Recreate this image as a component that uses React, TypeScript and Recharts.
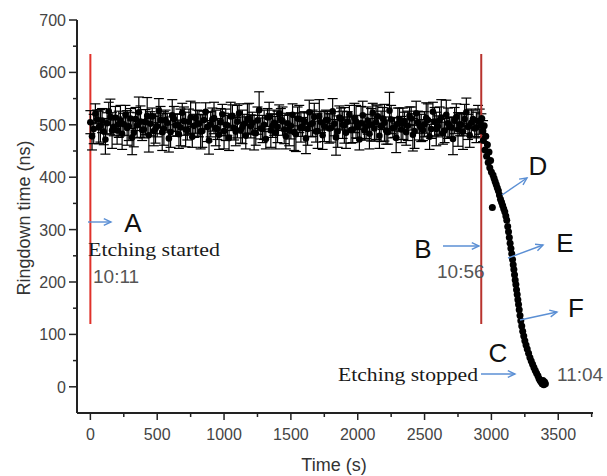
import {
  ErrorBar,
  ReferenceLine,
  Scatter,
  ScatterChart,
  XAxis,
  YAxis,
} from "recharts";

// sample cadence of the flat (pre-breakthrough) part, seconds
const SAMPLE_STEP = 25;

// readings taken on the step
const flatValues = [
  505, 492, 510, 498, 487, 503, 515, 496, 489, 508, 501, 494, 512, 485, 499, 506, 491, 517, 502, 488,
  497, 509, 493, 504, 486, 511, 500, 495, 507, 490, 514, 498, 503, 487, 509, 496, 501, 513, 492, 505,
  488, 499, 516, 494, 506, 490, 502, 511, 497, 485, 508, 493, 500, 514, 489, 504, 496, 510, 491, 503,
  498, 486, 512, 495, 507, 492, 501, 515, 488, 505, 497, 509, 494, 502, 487, 511, 499, 506, 490, 513,
  496, 503, 489, 508, 500, 493, 516, 497, 504, 486, 510, 495, 502, 491, 507, 498, 512, 488, 505, 494,
  501, 509, 492, 506, 497, 514, 489, 503, 495, 508, 491, 500, 511, 496, 504, 493, 507, 499,
];

const flatErrors = [
  22, 28, 18, 31, 25, 20, 34, 17, 26, 29, 21, 33, 19, 27, 24, 30, 16, 35, 23, 28,
  20, 26, 32, 18, 29, 24, 21, 35, 27, 19, 31, 22, 25, 33, 17, 28, 24, 30, 20, 26,
  34, 19, 27, 23, 31, 25, 18, 29, 22, 33, 26, 20, 28, 17, 32, 24, 30, 21, 27, 19,
  25, 35, 22, 28, 18, 31, 24, 26, 33, 20, 29, 17, 27, 23, 30, 21, 34, 19, 25, 28,
  22, 32, 18, 26, 31, 24, 20, 29, 35, 23, 27, 19, 30, 25, 17, 28, 22, 33, 21, 26,
  24, 31, 18, 27, 20, 34, 23, 29, 19, 25, 32, 21, 28, 24, 26, 18, 30, 22,
];

// readings taken half a step later
const flatValuesB = [
  478, 521, 495, 508, 472, 526, 489, 514, 501, 483, 519, 497, 476, 511, 524, 490, 505, 480, 516, 493,
  527, 486, 509, 474, 518, 499, 482, 523, 491, 506, 477, 513, 502, 488, 525, 470, 510, 494, 481, 520,
  500, 475, 517, 487, 522, 496, 479, 512, 504, 484, 528, 492, 473, 515, 498, 485, 521, 507, 478, 490,
  519, 482, 511, 496, 474, 524, 503, 487, 516, 480, 509, 493, 526, 476, 514, 500, 485, 520, 491, 506,
  472, 518, 497, 483, 523, 505, 479, 512, 489, 527, 494, 475, 510, 502, 486, 517, 481, 522, 498, 490,
  513, 477, 525, 492, 508, 484, 519, 496, 473, 515, 501, 487, 524, 480, 511, 495, 506, 488,
];

const flatErrorsB = [
  26, 19, 31, 23, 28, 17, 34, 21, 25, 30, 18, 27, 33, 22, 29, 20, 24, 32, 16, 28,
  23, 35, 19, 26, 30, 21, 27, 18, 33, 24, 20, 29, 25, 31, 17, 26, 22, 34, 28, 19,
  30, 24, 21, 27, 18, 32, 25, 29, 20, 23, 35, 26, 19, 28, 22, 31, 17, 27, 24, 30,
  21, 33, 26, 18, 29, 23, 25, 20, 32, 27, 19, 28, 24, 34, 22, 26, 30, 17, 25, 31,
  20, 27, 23, 29, 18, 33, 24, 21, 26, 35, 19, 28, 22, 30, 25, 17, 31, 23, 27, 20,
  29, 24, 18, 32, 26, 21, 28, 19, 30, 25, 22, 34, 27, 23, 17, 29, 24, 20,
];

const dropTimes = [
  2928, 2934, 2940, 2946, 2952, 2958, 2964, 2970, 2976, 2982, 2988, 2994, 3000, 3007, 3012,
  3020, 3028, 3036, 3044, 3052, 3060, 3068, 3076, 3084, 3092, 3100, 3108, 3115, 3122, 3128,
  3134, 3140, 3146, 3152, 3158, 3163, 3168, 3173, 3178, 3183, 3188, 3193, 3198, 3203, 3208,
  3214, 3220, 3227, 3234, 3242, 3250, 3259, 3268, 3278, 3288, 3298, 3308, 3318, 3328, 3338,
  3348, 3356, 3364, 3372, 3380, 3386, 3392, 3398, 3404,
];

const dropValues = [
  512, 488, 470, 498, 452, 478, 440, 462, 428, 448, 418, 432, 410, 342, 404,
  398, 392, 386, 380, 374, 366, 358, 352, 346, 340, 334, 326, 318, 306, 296,
  285, 274, 264, 254, 243, 233, 224, 214, 204, 195, 185, 176, 166, 157, 147,
  136, 126, 116, 106, 97, 88, 80, 72, 64, 56, 49, 43, 37, 31, 26,
  21, 16, 12, 9, 6, 12, 4, 9, 6,
];

const xTicks = [
  0, 250, 500, 750, 1000, 1250, 1500, 1750, 2000, 2250, 2500, 2750, 3000, 3250, 3500, 3750,
];
const yTicks = [0, 50, 100, 150, 200, 250, 300, 350, 400, 450, 500, 550, 600, 650, 700];

// etching start / stop markers (s)
const etchStart = 0;
const breakThrough = 2924;

const flatData = [
  ...flatValues.map((v, i) => ({ t: i * SAMPLE_STEP, v, err: flatErrors[i] })),
  ...flatValuesB.map((v, i) => ({ t: i * SAMPLE_STEP + SAMPLE_STEP / 2, v, err: flatErrorsB[i] })),
];
const dropData = dropTimes.map((t, i) => ({ t, v: dropValues[i] }));

const XTick = (props: any) => {
  const { x, y, payload } = props;
  const major = payload.value % 500 === 0;
  return (
    <g>
      <line x1={x} x2={x} y1={y} y2={y + (major ? 7 : 4)} stroke="#222" strokeWidth={1.5} />
      {major && (
        <text x={x} y={y + 27} textAnchor="middle" fontSize={16} fill="#444" fontFamily="Arial, Liberation Sans">
          {payload.value}
        </text>
      )}
    </g>
  );
};

const YTick = (props: any) => {
  const { x, y, payload } = props;
  const major = payload.value % 100 === 0;
  return (
    <g>
      <line x1={x - (major ? 8 : 4)} x2={x} y1={y} y2={y} stroke="#222" strokeWidth={1.5} />
      {major && (
        <text x={x - 11} y={y + 6} textAnchor="end" fontSize={16} fill="#444" fontFamily="Arial, Liberation Sans">
          {payload.value}
        </text>
      )}
    </g>
  );
};

const Dot = (r: number) => (props: any) => <circle cx={props.cx} cy={props.cy} r={r} fill="#000" />;

const Arrow = ({ x1, y1, x2, y2 }: { x1: number; y1: number; x2: number; y2: number }) => {
  const a = Math.atan2(y2 - y1, x2 - x1);
  const h = 8;
  const p1 = [x2 - h * Math.cos(a - 0.45), y2 - h * Math.sin(a - 0.45)];
  const p2 = [x2 - h * Math.cos(a + 0.45), y2 - h * Math.sin(a + 0.45)];
  return (
    <g stroke="#5b8fd4" strokeWidth={1.4} fill="none">
      <line x1={x1} y1={y1} x2={x2} y2={y2} />
      <polyline points={`${p1[0]},${p1[1]} ${x2},${y2} ${p2[0]},${p2[1]}`} />
    </g>
  );
};

const sans = "Arial, Liberation Sans, sans-serif";
const serif = "Liberation Serif, Times New Roman, serif";

const App = () => {
  return (
    <div style={{ position: "absolute", left: 0, top: 0, width: 607, height: 476, background: "#fff" }}>
      <ScatterChart width={607} height={476} margin={{ top: 20, right: 14, bottom: 0, left: 0 }}>
        <XAxis
          type="number"
          dataKey="t"
          domain={[-100, 3760]}
          ticks={xTicks}
          interval={0}
          tickSize={0}
          tickMargin={0}
          tick={<XTick />}
          height={63}
          axisLine={{ stroke: "#222", strokeWidth: 2 }}
          allowDataOverflow
        />
        <YAxis
          type="number"
          dataKey="v"
          domain={[-50, 700]}
          ticks={yTicks}
          interval={0}
          tickSize={0}
          tickMargin={0}
          tick={<YTick />}
          width={77}
          axisLine={{ stroke: "#222", strokeWidth: 2 }}
          allowDataOverflow
        />
        <ReferenceLine
          segment={[{ x: etchStart, y: 120 }, { x: etchStart, y: 635 }]}
          stroke="#e0312a"
          strokeWidth={2}
        />
        <Scatter data={flatData} shape={Dot(3.3)} isAnimationActive={false}>
          <ErrorBar dataKey="err" direction="y" width={5} stroke="#000" strokeWidth={1.2} />
        </Scatter>
        <Scatter data={dropData} shape={Dot(3.5)} isAnimationActive={false} />
        <ReferenceLine
          segment={[{ x: breakThrough, y: 120 }, { x: breakThrough, y: 635 }]}
          stroke="#b8332e"
          strokeWidth={2}
        />
      </ScatterChart>
      <svg width={607} height={476} style={{ position: "absolute", left: 0, top: 0, pointerEvents: "none" }}>
        <text x={24} y={218} transform="rotate(-90 24 218)" textAnchor="middle" dominantBaseline="central" fontSize={18} fill="#333" fontFamily={sans}>
          Ringdown time (ns)
        </text>
        <text x={334} y={471} textAnchor="middle" fontSize={18} fill="#333" fontFamily={sans}>
          Time (s)
        </text>

        <Arrow x1={88} y1={222} x2={111} y2={222} />
        <text x={133} y={232} textAnchor="middle" fontSize={26} fill="#111" fontFamily={sans}>A</text>
        <text x={88} y={256} fontSize={19} fill="#1a1a1a" fontFamily={serif} textLength={132} lengthAdjust="spacingAndGlyphs">Etching started</text>
        <text x={93} y={283} fontSize={19} fill="#555" fontFamily={sans}>10:11</text>

        <Arrow x1={443} y1={246} x2={479} y2={246} />
        <text x={423} y={258} textAnchor="middle" fontSize={26} fill="#111" fontFamily={sans}>B</text>
        <text x={437} y={278} fontSize={19} fill="#555" fontFamily={sans}>10:56</text>

        <Arrow x1={502} y1={195} x2={527} y2={178} />
        <text x={538} y={175} textAnchor="middle" fontSize={26} fill="#111" fontFamily={sans}>D</text>

        <Arrow x1={508} y1={258} x2={543} y2={245} />
        <text x={565} y={252} textAnchor="middle" fontSize={26} fill="#111" fontFamily={sans}>E</text>

        <Arrow x1={520} y1={320} x2={557} y2={312} />
        <text x={576} y={317} textAnchor="middle" fontSize={26} fill="#111" fontFamily={sans}>F</text>

        <text x={498} y={362} textAnchor="middle" fontSize={26} fill="#111" fontFamily={sans}>C</text>
        <text x={338} y={381} fontSize={19} fill="#1a1a1a" fontFamily={serif} textLength={140} lengthAdjust="spacingAndGlyphs">Etching stopped</text>
        <Arrow x1={481} y1={374} x2={515} y2={374} />
        <text x={557} y={381} fontSize={19} fill="#555" fontFamily={sans}>11:04</text>
      </svg>
    </div>
  );
};

export default App;
